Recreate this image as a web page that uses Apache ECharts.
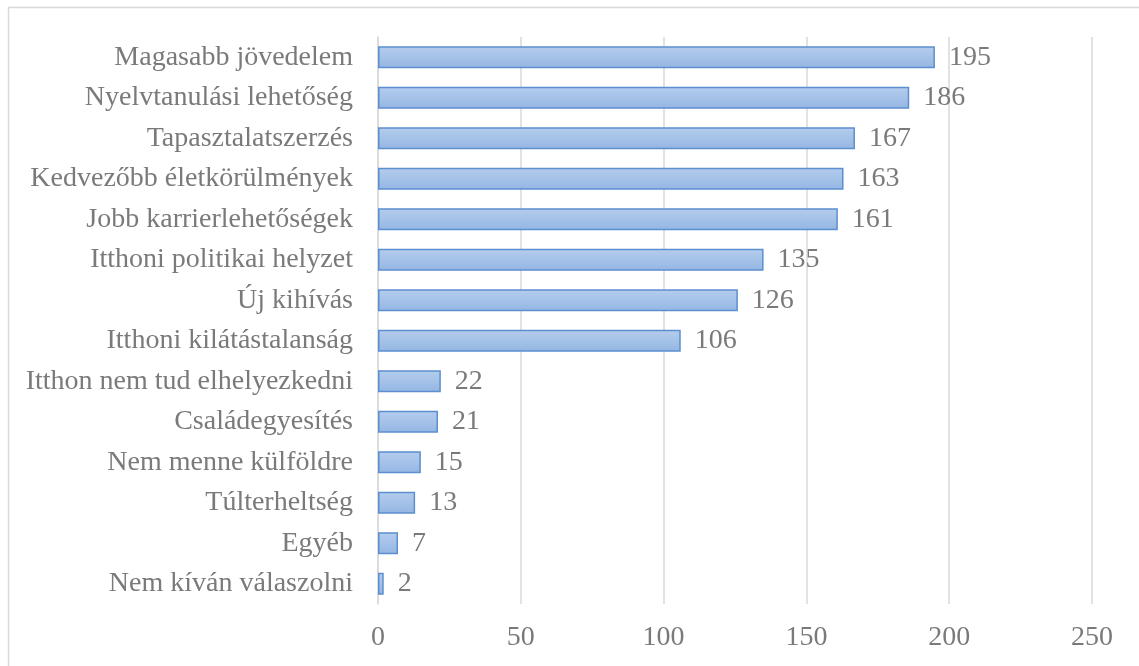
<!DOCTYPE html>
<html>
<head>
<meta charset="utf-8">
<script src="https://cdn.jsdelivr.net/npm/echarts@6/dist/echarts.min.js"></script>
<style>
  html, body { margin: 0; padding: 0; background: #fff; }
  #main { width: 1139px; height: 666px; }
</style>
</head>
<body>
<div id="main"></div>
<script>
// reasons, top to bottom as shown
const categories = [
  'Magasabb jövedelem',
  'Nyelvtanulási lehetőség',
  'Tapasztalatszerzés',
  'Kedvezőbb életkörülmények',
  'Jobb karrierlehetőségek',
  'Itthoni politikai helyzet',
  'Új kihívás',
  'Itthoni kilátástalanság',
  'Itthon nem tud elhelyezkedni',
  'Családegyesítés',
  'Nem menne külföldre',
  'Túlterheltség',
  'Egyéb',
  'Nem kíván válaszolni'
];
const counts = [195, 186, 167, 163, 161, 135, 126, 106, 22, 21, 15, 13, 7, 2];
const xTicks = [0, 50, 100, 150, 200, 250];

const textColor = '#7a7a7a';
const font = 'Liberation Serif';

const chart = echarts.init(document.getElementById('main'));

const options = {
  animation: false,
  graphic: [
    {
      type: 'rect',
      shape: { x: 8.5, y: 7.5, width: 1140, height: 680 },
      style: { fill: 'none', stroke: '#d9d9d9', lineWidth: 1.5 },
      silent: true
    }
  ],
  grid: {
    left: 378,
    right: 47,
    top: 37,
    bottom: 62
  },
  xAxis: {
    type: 'value',
    min: xTicks[0],
    max: xTicks[xTicks.length - 1],
    interval: 50,
    axisLine: { show: false },
    axisTick: { show: false },
    splitLine: {
      lineStyle: { color: '#d9d9d9', width: 1.5 }
    },
    axisLabel: {
      color: textColor,
      fontFamily: font,
      fontSize: 28,
      margin: 20
    }
  },
  yAxis: {
    type: 'category',
    inverse: true,
    data: categories,
    axisLine: { show: true, lineStyle: { color: '#d9d9d9', width: 1.5 } },
    axisTick: { show: false },
    axisLabel: {
      color: textColor,
      fontFamily: font,
      fontSize: 28,
      margin: 25
    }
  },
  series: [
    {
      name: 'Válaszok',
      type: 'bar',
      data: counts,
      barWidth: 22,
      itemStyle: {
        color: new echarts.graphic.LinearGradient(0, 0, 0, 1, [
          { offset: 0, color: '#b5cdee' },
          { offset: 1, color: '#94b6e3' }
        ]),
        borderColor: '#5b8fd0',
        borderWidth: 1.5
      },
      label: {
        show: true,
        position: 'right',
        distance: 14,
        color: textColor,
        fontFamily: font,
        fontSize: 28
      }
    }
  ]
};

chart.setOption(options);
</script>
</body>
</html>
